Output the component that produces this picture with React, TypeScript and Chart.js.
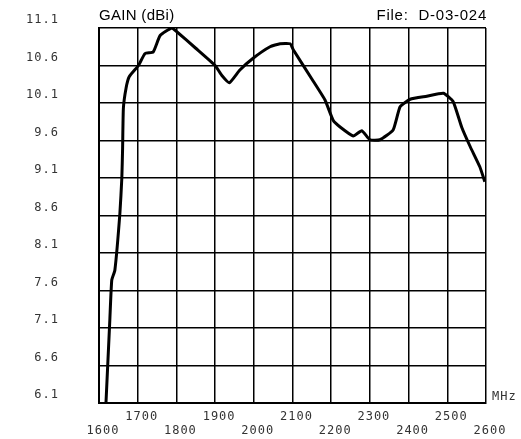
import React, { useEffect, useRef } from "react";
import { Chart, registerables } from "chart.js";

Chart.register(...registerables);

const freqMHz = [1618, 1628, 1633, 1641, 1654, 1659, 1661, 1663, 1670, 1678, 1702, 1719, 1740, 1758, 1788, 1801, 1850, 1900, 1917, 1937, 1964, 1999, 2042, 2068, 2094, 2102, 2150, 2184, 2205, 2223, 2257, 2279, 2300, 2326, 2360, 2378, 2404, 2447, 2490, 2515, 2537, 2559, 2584, 2597];
const gainDbi = [6.1, 7.21, 7.74, 7.87, 8.63, 9.1, 9.5, 10.03, 10.3, 10.45, 10.6, 10.76, 10.78, 11.0, 11.1, 11.05, 10.83, 10.6, 10.47, 10.37, 10.54, 10.7, 10.85, 10.89, 10.89, 10.81, 10.42, 10.14, 9.87, 9.78, 9.66, 9.73, 9.61, 9.61, 9.74, 10.05, 10.15, 10.19, 10.23, 10.12, 9.78, 9.52, 9.25, 9.05];

const xTicks = [1600, 1700, 1800, 1900, 2000, 2100, 2200, 2300, 2400, 2500, 2600];
const yTicks = [6.1, 6.6, 7.1, 7.6, 8.1, 8.6, 9.1, 9.6, 10.1, 10.6, 11.1];

const titleLeft = "GAIN (dBi)";
const titleRight = "File:  D-03-024";
const unitLabel = "MHz";

const MONO = "'DejaVu Sans Mono', monospace";
const SANS = "'Liberation Sans', Arial, sans-serif";

export default function App() {
  const ref = useRef<HTMLCanvasElement | null>(null);

  useEffect(() => {
    document.body.style.margin = "0";
    const canvas = ref.current;
    if (!canvas) return;

    const textPlugin = {
      id: "textPlugin",
      beforeDraw(chart: any) {
        (chart.ctx as any).letterSpacing = "1px";
      },
      afterDraw(chart: any) {
        const ctx = chart.ctx;
        const a = chart.chartArea;
        ctx.save();
        ctx.fillStyle = "#000";
        ctx.font = `15px ${SANS}`;
        ctx.textBaseline = "alphabetic";
        ctx.textAlign = "left";
        (ctx as any).letterSpacing = "0.3px";
        ctx.fillText(titleLeft, a.left, a.top - 8);
        ctx.textAlign = "right";
        (ctx as any).letterSpacing = "0.75px";
        ctx.fillText(titleRight, a.right + 1, a.top - 8);
        (ctx as any).letterSpacing = "1px";
        ctx.font = `12px ${MONO}`;
        ctx.fillStyle = "#333";
        ctx.textAlign = "left";
        ctx.textBaseline = "middle";
        ctx.fillText(unitLabel, a.right + 6, a.bottom - 6);
        ctx.restore();
      },
    };

    const zeroPad = (s: any) => {
      s.paddingTop = 0;
      s.paddingBottom = 0;
      s.paddingLeft = 0;
      s.paddingRight = 0;
    };

    const chart = new Chart(canvas, {
      type: "line",
      data: {
        datasets: [
          {
            data: freqMHz.map((f, i) => ({ x: f, y: gainDbi[i] })),
            borderColor: "#000",
            borderWidth: 3,
            pointRadius: 0,
            tension: 0.15,
            fill: false,
          },
        ],
      },
      options: {
        animation: false,
        responsive: false,
        devicePixelRatio: 1,
        layout: { padding: { left: 0, top: 28, right: 35, bottom: 0 } },
        plugins: { legend: { display: false }, tooltip: { enabled: false }, title: { display: false } },
        scales: {
          x: {
            type: "linear",
            min: 1600,
            max: 2600,
            afterBuildTicks: (s: any) => {
              s.ticks = xTicks.map((v) => ({ value: v }));
            },
            afterFit: (s: any) => {
              s.height = 36;
              zeroPad(s);
            },
            grid: { color: "#000", lineWidth: 1.5, drawTicks: false },
            border: { color: "#000", width: 2 },
            ticks: {
              autoSkip: false,
              maxRotation: 0,
              padding: 7,
              labelOffset: 4,
              color: "#333",
              font: { family: MONO, size: 12, lineHeight: 1.17 },
              callback: (v: any) => {
                const n = Number(v);
                return (n / 100) % 2 === 1 ? [String(n), ""] : ["", String(n)];
              },
            },
          },
          y: {
            type: "linear",
            min: 6.1,
            max: 11.1,
            afterBuildTicks: (s: any) => {
              s.ticks = yTicks.map((v) => ({ value: v }));
            },
            afterFit: (s: any) => {
              s.width = 99;
              zeroPad(s);
            },
            grid: { color: "#000", lineWidth: 1.5, drawTicks: false },
            border: { color: "#000", width: 2 },
            ticks: {
              autoSkip: false,
              padding: 40,
              labelOffset: -8,
              color: "#333",
              font: { family: MONO, size: 12 },
              callback: (v: any) => Number(v).toFixed(1),
            },
          },
        },
      },
      plugins: [textPlugin],
    });
    return () => chart.destroy();
  }, []);

  return (
    <div style={{ position: "absolute", left: 0, top: 0, width: 521, height: 439, background: "#fff" }}>
      <canvas ref={ref} width={521} height={439} style={{ width: 521, height: 439 }} />
    </div>
  );
}
